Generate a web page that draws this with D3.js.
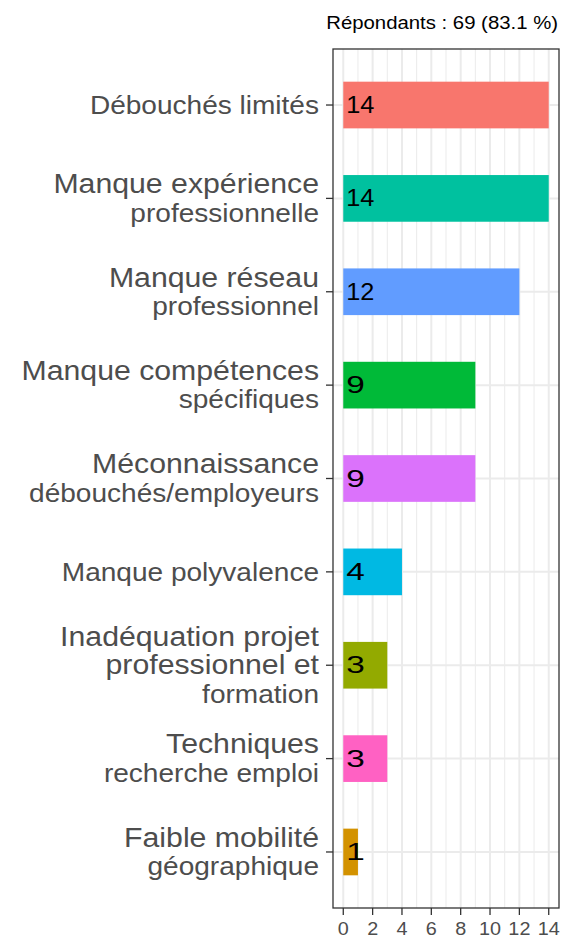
<!DOCTYPE html>
<html>
<head>
<meta charset="utf-8">
<script src="https://cdn.jsdelivr.net/npm/d3@7"></script>
<style>
  body { margin: 0; background: #fff; }
  text { font-family: "Liberation Sans", Arial, sans-serif; }
</style>
</head>
<body>
<div id="chart"></div>
<script>

// Data
var categories = [
  ["Débouchés limités"],
  ["Manque expérience", "professionnelle"],
  ["Manque réseau", "professionnel"],
  ["Manque compétences", "spécifiques"],
  ["Méconnaissance", "débouchés/employeurs"],
  ["Manque polyvalence"],
  ["Inadéquation projet", "professionnel et", "formation"],
  ["Techniques", "recherche emploi"],
  ["Faible mobilité", "géographique"]
];
var counts = [14, 14, 12, 9, 9, 4, 3, 3, 1];
var barColors = ["#F8766D", "#00C19F", "#619CFF", "#00BA38", "#DB72FB",
                 "#00B9E3", "#93AA00", "#FF61C3", "#D39200"];
var xTicks = [0, 2, 4, 6, 8, 10, 12, 14];
var xMinor = [1, 3, 5, 7, 9, 11, 13];
var subtitle = "Répondants : 69 (83.1 %)";

var data = categories.map(function(c, i){
  return {key: c.join(" "), lines: c, value: counts[i], color: barColors[i]};
});

var W = 563, H = 944;
var margin = {top: 49, right: 4, bottom: 36, left: 333};
var width = W - margin.left - margin.right,
    height = H - margin.top - margin.bottom;
var sx = 1.1; // text looks a bit wide in the reference

var svg = d3.select("#chart").append("svg")
  .attr("width", W)
  .attr("height", H);

var g = svg.append("g")
  .attr("transform", "translate(" + margin.left + "," + margin.top + ")");

// Scales (ggplot style expansion)
var x = d3.scaleLinear()
  .domain([-0.7, 14.7])
  .range([0, width]);

var y = d3.scalePoint()
  .domain(data.map(function(d){ return d.key; }))
  .range([0, height])
  .padding(0.6);
var step = y.step();

// Grid
g.selectAll(".minor").data(xMinor).enter().append("line")
  .attr("x1", function(d){ return x(d); }).attr("x2", function(d){ return x(d); })
  .attr("y1", 0).attr("y2", height)
  .attr("stroke", "#EBEBEB").attr("stroke-width", 1);

g.selectAll(".major").data(xTicks).enter().append("line")
  .attr("x1", function(d){ return x(d); }).attr("x2", function(d){ return x(d); })
  .attr("y1", 0).attr("y2", height)
  .attr("stroke", "#EBEBEB").attr("stroke-width", 2);

g.selectAll(".hgrid").data(data).enter().append("line")
  .attr("x1", 0).attr("x2", width)
  .attr("y1", function(d){ return y(d.key); }).attr("y2", function(d){ return y(d.key); })
  .attr("stroke", "#EBEBEB").attr("stroke-width", 2);

// Bars
g.selectAll("rect.bar").data(data).enter().append("rect")
  .attr("class", "bar")
  .attr("x", x(0))
  .attr("y", function(d){ return y(d.key) - step * 0.25; })
  .attr("width", function(d){ return x(d.value) - x(0); })
  .attr("height", step * 0.5)
  .attr("fill", function(d){ return d.color; });

// Value labels
g.selectAll(".val").data(data).enter().append("text")
  .attr("transform", function(d){
    return "translate(" + (x(0) + 3) + "," + (y(d.key) + 8) + ") scale(" + (d.value < 10 ? 1.45 : sx) + ",1)";
  })
  .attr("font-size", 23)
  .attr("fill", "#000")
  .text(function(d){ return d.value; });

// Panel border
g.append("rect")
  .attr("width", width).attr("height", height)
  .attr("fill", "none").attr("stroke", "#333").attr("stroke-width", 1.3);

// Y axis ticks + labels
var yAxis = g.append("g");
yAxis.selectAll("line").data(data).enter().append("line")
  .attr("x1", -7).attr("x2", 0)
  .attr("y1", function(d){ return y(d.key); }).attr("y2", function(d){ return y(d.key); })
  .attr("stroke", "#333").attr("stroke-width", 1.3);

// first lines of a wrapped label are drawn larger than the last one
var lineH = 28.5;
var yLab = yAxis.selectAll("g.lab").data(data).enter().append("g")
  .attr("class", "lab");
yLab.each(function(d){
  var n = d.lines.length;
  var top = y(d.key) - (n - 1) * lineH / 2 + 9;
  d3.select(this).selectAll("text").data(d.lines).enter().append("text")
    .attr("transform", function(t, i){
      return "translate(-14," + (top + i * lineH) + ") scale(" + sx + ",1)";
    })
    .attr("text-anchor", "end")
    .attr("font-size", function(t, i){ return i < n - 1 ? 27.5 : 25.5; })
    .attr("fill", "#4D4D4D")
    .text(function(t){ return t; });
});

// X axis
var xAxis = g.append("g").attr("transform", "translate(0," + height + ")");
xAxis.selectAll("line").data(xTicks).enter().append("line")
  .attr("x1", function(d){ return x(d); }).attr("x2", function(d){ return x(d); })
  .attr("y1", 0).attr("y2", 7)
  .attr("stroke", "#333").attr("stroke-width", 1.3);
xAxis.selectAll("text").data(xTicks).enter().append("text")
  .attr("transform", function(d){ return "translate(" + x(d) + ",27) scale(" + sx + ",1)"; })
  .attr("text-anchor", "middle")
  .attr("font-size", 18)
  .attr("fill", "#4D4D4D")
  .text(function(d){ return d; });

// Subtitle
svg.append("text")
  .attr("transform", "translate(" + (W - 5) + ",29) scale(" + sx + ",1)")
  .attr("text-anchor", "end")
  .attr("font-size", 18.5)
  .attr("fill", "#000")
  .text(subtitle);

</script>
</body>
</html>
